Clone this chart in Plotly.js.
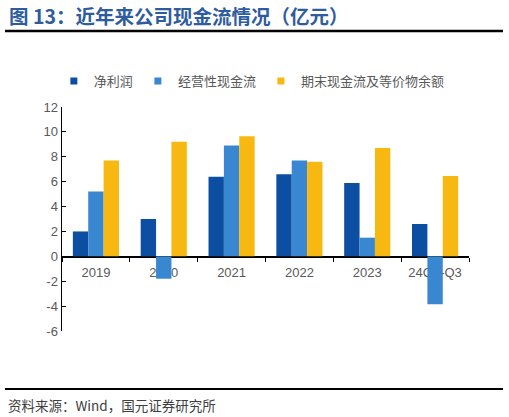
<!DOCTYPE html>
<html>
<head>
<meta charset="utf-8">
<script src="https://cdn.plot.ly/plotly-3.0.1.min.js"></script>
<style>
  body{margin:0;padding:0;background:#fff;}
  #graph{width:509px;height:417px;}
</style>
</head>
<body>
<div id="graph"></div>
<script>
// categories and values (亿元)
var periods = ["2019", "2020", "2021", "2022", "2023", "24Q1-Q3"];
var netProfit = [2.0, 3.0, 6.4, 6.6, 5.9, 2.6];
var opCashFlow = [5.2, -1.8, 8.9, 7.7, 1.5, -3.85];
var endCash = [7.7, 9.2, 9.65, 7.6, 8.7, 6.45];

var seriesNames = ["净利润", "经营性现金流", "期末现金流及等价物余额"];
var seriesColors = ["#0c4fa2", "#3987d0", "#f8b812"];
var yTicks = [-6, -4, -2, 0, 2, 4, 6, 8, 10, 12];
var yTickLabels = ["-6", "-4", "-2", "0", "2", "4", "6", "8", "10", "12"];

function buildCashGraph(){

  var allSeries = [netProfit, opCashFlow, endCash];
  var data = [];

  allSeries.forEach((vals, i) => {
    var trace = {
      x: periods,
      y: vals,
      name: seriesNames[i],
      type: 'bar',
      marker: {color: seriesColors[i]},
      showlegend: false,
      hoverinfo: 'name+y'
    };
    data.push(trace);
  });

  // legend-only entries so the legend swatch is a small square like the original
  seriesNames.forEach((nm, i) => {
    data.push({
      x: [null],
      y: [null],
      name: nm,
      type: 'scatter',
      mode: 'markers',
      marker: {color: seriesColors[i], symbol: 'square', size: 7},
      hoverinfo: 'skip'
    });
  });

  var grey = "#595959";

  var layout = {
    width: 509,
    height: 417,
    margin: {l: 62, r: 40, t: 107, b: 86},
    paper_bgcolor: "#fff",
    plot_bgcolor: "#fff",
    barmode: 'group',
    bargap: 0.32,
    bargroupgap: 0,
    showlegend: true,
    legend: {
      orientation: 'h',
      x: -0.02, xanchor: 'left',
      y: 1.116, yanchor: 'middle',
      font: {family: "Noto Sans CJK SC", size: 13, color: grey},
      itemwidth: 30
    },
    xaxis: {
      type: 'category',
      anchor: 'free',
      position: 1/3,   // zero of the y range (-6..12)
      showline: true,
      linecolor: "#000",
      linewidth: 1.5,
      ticks: 'outside',
      tickson: 'boundaries',
      ticklen: 4,
      tickcolor: "#000",
      ticklabelstandoff: 4,
      showgrid: false,
      zeroline: false,
      layer: 'below traces',
      tickfont: {family: "Liberation Sans, Arial", size: 13, color: grey}
    },
    yaxis: {
      range: [-6, 12],
      tickvals: yTicks,
      ticktext: yTickLabels,
      showline: true,
      linecolor: "#000",
      linewidth: 1.5,
      ticks: 'inside',
      ticklen: 4,
      tickcolor: "#000",
      showgrid: false,
      zeroline: false,
      tickfont: {family: "Liberation Sans, Arial", size: 13, color: grey}
    },
    shapes: [
      {type: 'line', xref: 'paper', yref: 'paper', x0: -0.14, x1: 1.0835, y0: 1.339, y1: 1.339,
        line: {color: "#000", width: 2.5}},
      {type: 'line', xref: 'paper', yref: 'paper', x0: -0.14, x1: 1.0835, y0: -0.259, y1: -0.259,
        line: {color: "#000", width: 2}}
    ],
    annotations: [
      {text: "<b>图 13：近年来公司现金流情况（亿元）</b>", xref: 'paper', yref: 'paper',
        x: -0.135, xanchor: 'left', y: 1.41, yanchor: 'middle', showarrow: false,
        font: {family: "Noto Sans CJK SC", size: 19.5, color: "#2e5c9e"}},
      {text: "资料来源：Wind，国元证券研究所", xref: 'paper', yref: 'paper',
        x: -0.137, xanchor: 'left', y: -0.33, yanchor: 'middle', showarrow: false,
        font: {family: "Noto Sans CJK SC", size: 13.5, color: "#404040"}}
    ]
  };

  Plotly.newPlot('graph', data, layout, {displayModeBar: false, staticPlot: true});
}

buildCashGraph();
</script>
</body>
</html>
